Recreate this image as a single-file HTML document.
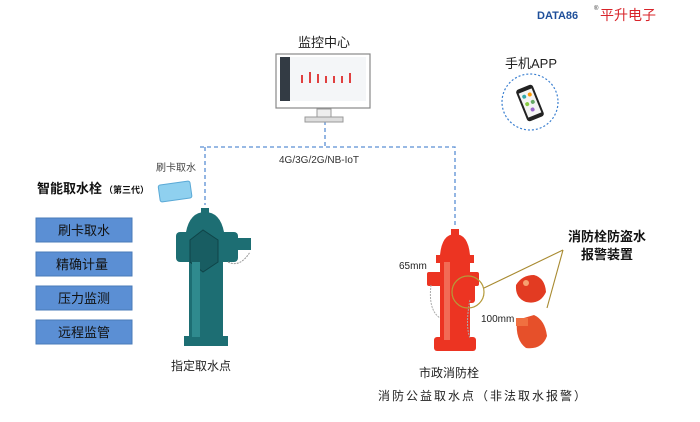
<!DOCTYPE html>
<html><head><meta charset="utf-8"><style>
body{margin:0;width:700px;height:417px;background:#fff;overflow:hidden;font-family:"Liberation Sans","Noto Sans CJK SC",sans-serif;}
svg text{font-family:"Liberation Sans","Noto Sans CJK SC",sans-serif;}
</style></head><body>
<svg width="700" height="417" viewBox="0 0 700 417">
<!-- logo -->
<text x="537" y="19" font-size="11" font-weight="bold" fill="#1f4f9a">DATA86</text>
<text x="594" y="10" font-size="6" fill="#333">®</text>
<text x="600" y="20" font-size="14" fill="#d8242a">平升电子</text>
<!-- dashed lines -->
<g stroke="#5b8fd4" stroke-width="1.3" stroke-dasharray="4,3" fill="none">
<path d="M325 100 V147 M200 147 H455 V225 M205 147 V205"/>
</g>
<text x="279" y="163" font-size="10" fill="#333">4G/3G/2G/NB-IoT</text>
<!-- monitor -->
<text x="298" y="47" font-size="13" fill="#222">监控中心</text>
<rect x="276" y="54" width="94" height="54" fill="#fff" stroke="#888" stroke-width="1.2"/>
<rect x="280" y="57" width="86" height="44" fill="#f4f6f8"/>
<rect x="280" y="57" width="10" height="44" fill="#333b44"/>
<g fill="#e04040"><rect x="301" y="75" width="2" height="8"/><rect x="309" y="72" width="2" height="11"/><rect x="317" y="74" width="2" height="9"/><rect x="325" y="76" width="2" height="7"/><rect x="333" y="76" width="2" height="7"/><rect x="341" y="76" width="2" height="7"/><rect x="349" y="73" width="2" height="10"/></g>
<rect x="317" y="109" width="14" height="8" fill="#eee" stroke="#999"/>
<rect x="305" y="117" width="38" height="5" fill="#ddd" stroke="#999"/>
<!-- phone -->
<text x="505" y="68" font-size="13" fill="#222">手机APP</text>
<circle cx="530" cy="102" r="28" fill="none" stroke="#3a7fd0" stroke-width="1.2" stroke-dasharray="2,2"/>
<g transform="rotate(-22 530 103)"><rect x="521" y="86" width="18" height="34" rx="3" fill="#222"/><rect x="523" y="90" width="14" height="26" fill="#f4f4f4"/><circle cx="527" cy="95" r="2" fill="#3aa"/><circle cx="533" cy="95" r="2" fill="#f90"/><circle cx="527" cy="103" r="2" fill="#8c4"/><circle cx="533" cy="103" r="2" fill="#6a6"/><circle cx="530" cy="110" r="2" fill="#96c"/></g>
<!-- left -->
<text x="37" y="193" font-size="13" font-weight="bold" fill="#111">智能取水栓</text>
<text x="104" y="193" font-size="9" font-weight="bold" fill="#111">（第三代）</text>
<text x="156" y="171" font-size="10" fill="#444">刷卡取水</text>
<rect x="159" y="183" width="32" height="17" rx="2" fill="#8fd0ef" stroke="#5aa9d6" transform="rotate(-8 175 191)"/>
<g font-size="13" fill="#111">
<rect x="36" y="218" width="96" height="24" fill="#5b8fd4" stroke="#4a7bb8"/><text x="58" y="235">刷卡取水</text>
<rect x="36" y="252" width="96" height="24" fill="#5b8fd4" stroke="#4a7bb8"/><text x="56" y="269">精确计量</text>
<rect x="36" y="286" width="96" height="24" fill="#5b8fd4" stroke="#4a7bb8"/><text x="58" y="303">压力监测</text>
<rect x="36" y="320" width="96" height="24" fill="#5b8fd4" stroke="#4a7bb8"/><text x="58" y="337">远程监管</text>
</g>
<!-- green hydrant -->
<g fill="#1d6e73">
<rect x="201" y="208" width="8" height="5"/>
<path d="M186 232 Q190 212 205 212 Q220 212 224 232 Z"/>
<rect x="176" y="232" width="62" height="30" rx="4"/>
<rect x="237" y="238" width="14" height="12"/>
<rect x="189" y="262" width="34" height="80"/>
<rect x="184" y="336" width="44" height="10"/>
</g>
<path d="M190 240 L203 230 L218 240 L218 262 L203 272 L190 262 Z" fill="#185d62" stroke="#0f4448"/>
<rect x="192" y="262" width="8" height="75" fill="#2f8a8e"/>
<path d="M228 262 Q240 268 250 252" stroke="#999" fill="none" stroke-dasharray="2,1"/>
<text x="171" y="370" font-size="12" fill="#222">指定取水点</text>
<!-- red hydrant -->
<g fill="#ec3422">
<rect x="451" y="229" width="8" height="6"/>
<path d="M440 255 Q442 234 455 234 Q468 234 470 255 Z"/>
<rect x="436" y="255" width="38" height="8"/>
<rect x="440" y="262" width="30" height="80"/>
<rect x="427" y="272" width="16" height="14" rx="2"/>
<rect x="467" y="272" width="12" height="14" rx="2"/>
<rect x="453" y="283" width="22" height="20" rx="3"/>
<rect x="434" y="337" width="42" height="14" rx="3"/>
</g>
<rect x="444" y="262" width="6" height="78" fill="#f26b55"/>
<g stroke="#aaa" fill="none" stroke-dasharray="2,1"><path d="M431 285 Q428 310 440 318"/><path d="M470 300 Q465 325 470 338"/></g>
<circle cx="468" cy="292" r="16" fill="none" stroke="#b59a3a" stroke-width="1.2"/>
<g stroke="#a88a30" stroke-width="1.1"><line x1="484" y1="288" x2="563" y2="250"/><line x1="563" y1="250" x2="547" y2="308"/></g>
<path d="M516 285 Q522 275 534 275 Q545 278 546 292 Q540 305 526 302 Q515 298 516 285Z" fill="#e23b22"/>
<circle cx="526" cy="283" r="3" fill="#f6a070"/>
<path d="M517 320 L534 315 Q545 320 547 336 Q542 350 526 348 Q515 340 517 320Z" fill="#e6502a"/>
<rect x="516" y="318" width="12" height="8" fill="#f07040"/>
<text x="399" y="269" font-size="10" fill="#222">65mm</text>
<text x="481" y="322" font-size="10" fill="#222">100mm</text>
<text x="568" y="241" font-size="13" font-weight="bold" fill="#111">消防栓防盗水</text>
<text x="581" y="259" font-size="13" font-weight="bold" fill="#111">报警装置</text>
<text x="419" y="377" font-size="12" fill="#222">市政消防栓</text>
<text x="378" y="400" font-size="12" fill="#222" letter-spacing="2">消防公益取水点（非法取水报警）</text>
</svg>
</body></html>
